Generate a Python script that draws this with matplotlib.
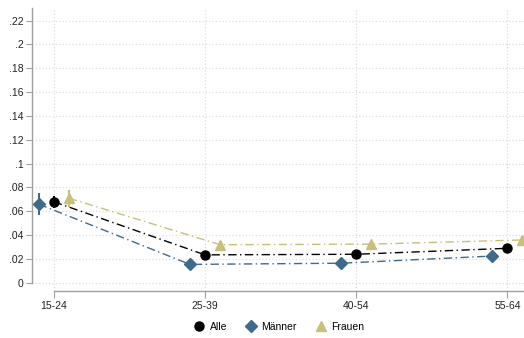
import numpy as np
import matplotlib
matplotlib.use("Agg")
import matplotlib.pyplot as plt
from matplotlib.lines import Line2D

plt.rcParams['font.family'] = ['Liberation Sans', 'DejaVu Sans']

# data
groups = ['15-24', '25-39', '40-54', '55-64']
alle = [0.068, 0.0235, 0.024, 0.029]
alle_lo = [0.063, 0.021, 0.022, 0.027]
alle_hi = [0.073, 0.026, 0.026, 0.031]
maenner = [0.066, 0.0155, 0.0165, 0.0225]
maenner_lo = [0.057, 0.013, 0.014, 0.020]
maenner_hi = [0.075, 0.018, 0.019, 0.025]
frauen = [0.071, 0.032, 0.0325, 0.036]
frauen_lo = [0.064, 0.029, 0.030, 0.033]
frauen_hi = [0.078, 0.035, 0.035, 0.039]
yticks = [0, .02, .04, .06, .08, .1, .12, .14, .16, .18, .2, .22]
yticklabels = ['0', '.02', '.04', '.06', '.08', '.1', '.12', '.14', '.16', '.18', '.2', '.22']

c_alle = 'black'
c_m = '#3f6a8a'
c_f = '#c9bf7d'
grid_c = '#d9d9d9'
axis_c = '#a0a0a0'

fig = plt.figure(figsize=(5.24, 3.38), dpi=100)
ax = fig.add_axes([32 / 524, 1 - 291 / 338, 1 - 32 / 524, (291 - 8) / 338])

x = np.arange(len(groups))
series = [
    (x - 0.1, maenner, maenner_lo, maenner_hi, c_m, 'D', 6, 'Männer'),
    (x, alle, alle_lo, alle_hi, c_alle, 'o', 6.5, 'Alle'),
    (x + 0.1, frauen, frauen_lo, frauen_hi, c_f, '^', 7, 'Frauen'),
]

for xs, ys, lo, hi, col, mk, ms, lab in series:
    ax.plot(xs, ys, color=col, lw=1, dashes=(6, 2.5, 1, 2.5), zorder=2, clip_on=False)
for xs, ys, lo, hi, col, mk, ms, lab in series:
    ax.vlines(xs, lo, hi, color=col, lw=1.5, zorder=3, clip_on=False)
    ax.plot(xs, ys, ls='none', marker=mk, ms=ms, color=col, mec=col, zorder=4, clip_on=False)

ax.set_xlim(-0.145, 3.11)
ax.set_ylim(-0.0068, 0.2305)

ax.set_yticks(yticks)
ax.set_yticklabels(yticklabels)
ax.set_xticks(x)
ax.set_xticklabels(groups)

for t in yticks:
    ax.axhline(t, color=grid_c, lw=0.8, ls=(0, (1, 2)), zorder=0)
for xi in x:
    ax.axvline(xi, color=grid_c, lw=0.8, ls=(0, (1, 2)), zorder=0)

for s in ['top', 'right']:
    ax.spines[s].set_visible(False)
ax.spines['left'].set_bounds(0, 0.2305)
ax.spines['bottom'].set_bounds(0, 3.11)
for s in ['left', 'bottom']:
    ax.spines[s].set_color(axis_c)
    ax.spines[s].set_linewidth(1)

ax.tick_params(axis='y', length=4, width=0.8, color=axis_c, labelsize=7.5, pad=2, labelcolor='#222222')
ax.tick_params(axis='x', length=5, width=0.8, color=axis_c, labelsize=7.5, pad=2, labelcolor='#222222')

handles = [
    Line2D([], [], ls='none', marker='o', ms=6.5, color=c_alle),
    Line2D([], [], ls='none', marker='D', ms=6, color=c_m),
    Line2D([], [], ls='none', marker='^', ms=7, color=c_f),
]
fig.legend(handles, ['Alle', 'Männer', 'Frauen'], loc='center', ncol=3,
           bbox_to_anchor=(279 / 524, 1 - 327 / 338), frameon=False, fontsize=7.5,
           handletextpad=0.5, columnspacing=1.8, handlelength=1.0)

fig.savefig('out.png', dpi=100)
